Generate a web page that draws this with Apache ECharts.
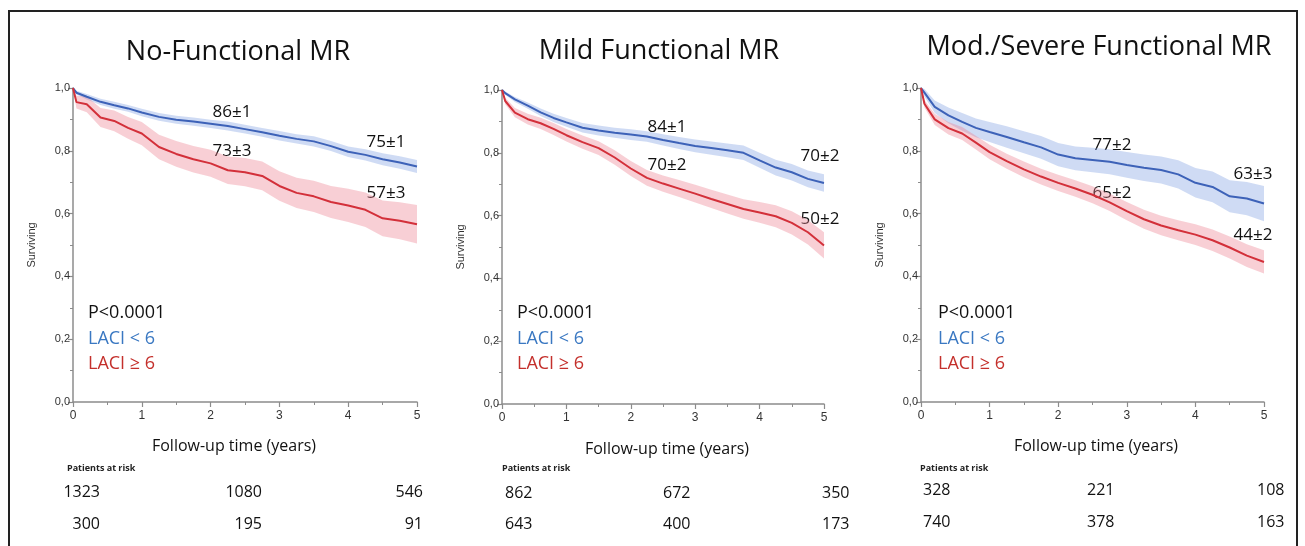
<!DOCTYPE html>
<html>
<head>
<meta charset="utf-8">
<script src="https://cdn.jsdelivr.net/npm/echarts@6/dist/echarts.min.js"></script>
<style>
    html, body { margin: 0; padding: 0; background: #fff; }
    #chart { width: 1305px; height: 546px; }
</style>
</head>
<body>
<div id="chart"></div>
<script>
    // follow-up times (years), shared by all curves
    var times = [0, 0.05, 0.2, 0.4, 0.6, 0.8, 1.0, 1.25, 1.5, 1.75, 2.0, 2.25, 2.5, 2.75, 3.0, 3.25, 3.5, 3.75, 4.0, 4.25, 4.5, 4.75, 5.0];

    // No-Functional MR
    var noBlue   = [1.0, 0.985, 0.972, 0.956, 0.945, 0.935, 0.922, 0.908, 0.899, 0.893, 0.886, 0.879, 0.869, 0.859, 0.848, 0.838, 0.830, 0.815, 0.797, 0.787, 0.773, 0.763, 0.750];
    var noBlueCi = [0, 0.006, 0.009, 0.01, 0.011, 0.011, 0.012, 0.012, 0.013, 0.013, 0.013, 0.014, 0.014, 0.014, 0.015, 0.015, 0.016, 0.016, 0.017, 0.018, 0.019, 0.02, 0.021];
    var noRed    = [1.0, 0.955, 0.948, 0.906, 0.895, 0.873, 0.855, 0.812, 0.790, 0.773, 0.760, 0.738, 0.732, 0.720, 0.688, 0.666, 0.655, 0.637, 0.626, 0.612, 0.585, 0.577, 0.566];
    var noRedCi  = [0, 0.02, 0.025, 0.03, 0.033, 0.035, 0.037, 0.039, 0.041, 0.042, 0.043, 0.044, 0.045, 0.046, 0.047, 0.048, 0.05, 0.051, 0.053, 0.055, 0.057, 0.059, 0.061];

    // Mild Functional MR
    var mildBlue   = [1.0, 0.99, 0.97, 0.95, 0.929, 0.911, 0.897, 0.880, 0.871, 0.864, 0.858, 0.852, 0.841, 0.831, 0.822, 0.815, 0.808, 0.800, 0.776, 0.753, 0.738, 0.717, 0.704];
    var mildBlueCi = [0, 0.005, 0.008, 0.01, 0.012, 0.013, 0.014, 0.015, 0.016, 0.016, 0.017, 0.017, 0.018, 0.019, 0.02, 0.021, 0.022, 0.023, 0.024, 0.025, 0.026, 0.027, 0.028];
    var mildRed    = [1.0, 0.965, 0.928, 0.907, 0.894, 0.876, 0.856, 0.834, 0.815, 0.785, 0.750, 0.720, 0.702, 0.686, 0.670, 0.653, 0.637, 0.621, 0.610, 0.598, 0.577, 0.547, 0.505];
    var mildRedCi  = [0, 0.01, 0.015, 0.017, 0.018, 0.019, 0.02, 0.021, 0.022, 0.023, 0.024, 0.025, 0.026, 0.027, 0.028, 0.029, 0.03, 0.031, 0.033, 0.035, 0.037, 0.039, 0.042];

    // Mod./Severe Functional MR
    var sevBlue   = [1.0, 0.985, 0.94, 0.913, 0.892, 0.873, 0.860, 0.844, 0.827, 0.811, 0.788, 0.776, 0.771, 0.765, 0.755, 0.746, 0.739, 0.725, 0.698, 0.685, 0.655, 0.648, 0.632];
    var sevBlueCi = [0, 0.012, 0.02, 0.025, 0.028, 0.03, 0.032, 0.034, 0.035, 0.036, 0.037, 0.038, 0.039, 0.04, 0.041, 0.042, 0.043, 0.045, 0.047, 0.049, 0.051, 0.053, 0.056];
    var sevRed    = [1.0, 0.95, 0.90, 0.872, 0.855, 0.826, 0.796, 0.767, 0.741, 0.718, 0.698, 0.680, 0.660, 0.636, 0.608, 0.582, 0.562, 0.547, 0.533, 0.515, 0.492, 0.466, 0.446];
    var sevRedCi  = [0, 0.012, 0.018, 0.02, 0.021, 0.022, 0.023, 0.024, 0.025, 0.025, 0.026, 0.026, 0.027, 0.028, 0.029, 0.03, 0.031, 0.032, 0.033, 0.034, 0.035, 0.036, 0.037];

    var panelTitles = ['No-Functional MR', 'Mild Functional MR', 'Mod./Severe Functional MR'];
    var xTicks = [0, 1, 2, 3, 4, 5];
    var yTicks = ['0,0', '0,2', '0,4', '0,6', '0,8', '1,0'];

    // survival labels: [blue mid, red mid, blue end, red end]
    var noLabels   = ['86±1', '73±3', '75±1', '57±3'];
    var mildLabels = ['84±1', '70±2', '70±2', '50±2'];
    var sevLabels  = ['77±2', '65±2', '63±3', '44±2'];

    // patients at risk (LACI < 6 / LACI >= 6) at 0, 2.5, 5 years
    var noRiskBlue   = [1323, 1080, 546];
    var noRiskRed    = [300, 195, 91];
    var mildRiskBlue = [862, 672, 350];
    var mildRiskRed  = [643, 400, 173];
    var sevRiskBlue  = [328, 221, 108];
    var sevRiskRed   = [740, 378, 163];

    var BLUE = '#3d62b8', BLUE_TXT = '#3a78c2', BLUE_BAND = 'rgba(130,160,225,0.38)';
    var RED = '#d3303a', RED_TXT = '#c4302c', RED_BAND = 'rgba(236,130,145,0.38)';
    var FONT = '"Open Sans", sans-serif';
    var AXFONT = '"Liberation Sans Narrow", "Liberation Sans", sans-serif';

    var panels = [
        {grid: {left: 73, top: 88, width: 344, height: 314},
         blue: noBlue, blueCi: noBlueCi, red: noRed, redCi: noRedCi,
         labels: noLabels, riskBlue: noRiskBlue, riskRed: noRiskRed,
         titleX: 238, titleY: 52, labelPos: [[232, 112], [232, 151], [386, 142], [386, 193]],
         riskX: [100, 262, 423], riskAlign: 'right', riskY: [492, 524], patX: 67, legX: 88, axTitleX: 234, axTitleY: 446},
        {grid: {left: 502, top: 90, width: 322, height: 314},
         blue: mildBlue, blueCi: mildBlueCi, red: mildRed, redCi: mildRedCi,
         labels: mildLabels, riskBlue: mildRiskBlue, riskRed: mildRiskRed,
         titleX: 659, titleY: 51, labelPos: [[667, 127], [667, 165], [820, 156], [820, 219]],
         riskX: [505, 663, 822], riskAlign: 'left', riskY: [493, 524], patX: 502, legX: 517, axTitleX: 667, axTitleY: 449},
        {grid: {left: 921, top: 88, width: 343, height: 314},
         blue: sevBlue, blueCi: sevBlueCi, red: sevRed, redCi: sevRedCi,
         labels: sevLabels, riskBlue: sevRiskBlue, riskRed: sevRiskRed,
         titleX: 1099, titleY: 47, labelPos: [[1112, 145], [1112, 193], [1253, 174], [1253, 235]],
         riskX: [923, 1087, 1257], riskAlign: 'left', riskY: [490, 522], patX: 920, legX: 938, axTitleX: 1096, axTitleY: 446}
    ];

    function pairs(ys) {
        return times.map(function (t, i) { return [t, ys[i]]; });
    }

    // confidence band as one polygon: upper edge forward, lower edge back
    function bandSeries(k, surv, ci, color) {
        var rows = times.map(function (t, i) { return [t, surv[i] - ci[i], surv[i] + ci[i]]; });
        return {
            type: 'custom', xAxisIndex: k, yAxisIndex: k, data: rows, silent: true, z: 1,
            encode: {x: 0, y: [1, 2]},
            renderItem: function (params, api) {
                if (params.dataIndex !== 0) return null;
                var top = rows.map(function (r) { return api.coord([r[0], r[2]]); });
                var bottom = rows.map(function (r) { return api.coord([r[0], r[1]]); }).reverse();
                return {type: 'polygon', shape: {points: top.concat(bottom)}, style: {fill: color}};
            }
        };
    }

    var grids = [], xAxes = [], yAxes = [], series = [], graphics = [];

    graphics.push({type: 'rect', shape: {x: 9, y: 11, width: 1288, height: 560},
        style: {fill: 'none', stroke: '#222', lineWidth: 2}, silent: true});

    panels.forEach(function (p, k) {
        grids.push(p.grid);
        xAxes.push({
            type: 'value', gridIndex: k, min: 0, max: 5, interval: 1,
            axisLine: {lineStyle: {color: '#8c8c8c', width: 1.5}},
            axisTick: {length: 5, lineStyle: {color: '#8c8c8c', width: 1.2}},
            minorTick: {show: true, splitNumber: 2, length: 3, lineStyle: {color: '#8c8c8c'}},
            splitLine: {show: false},
            axisLabel: {color: '#333', fontFamily: AXFONT, fontSize: 12, margin: 8,
                formatter: function (v) { return xTicks[Math.round(v)]; }}
        });
        yAxes.push({
            type: 'value', gridIndex: k, min: 0, max: 1, interval: 0.2,
            axisLine: {show: true, lineStyle: {color: '#8c8c8c', width: 1.5}},
            axisTick: {show: true, length: 5, lineStyle: {color: '#8c8c8c', width: 1.2}},
            minorTick: {show: true, splitNumber: 2, length: 3, lineStyle: {color: '#8c8c8c'}},
            splitLine: {show: false},
            axisLabel: {color: '#333', fontFamily: AXFONT, fontSize: 11, margin: 3,
                formatter: function (v) { return yTicks[Math.round(v * 5)]; }}
        });

        series.push(bandSeries(k, p.blue, p.blueCi, BLUE_BAND));
        series.push(bandSeries(k, p.red, p.redCi, RED_BAND));
        [[p.blue, BLUE], [p.red, RED]].forEach(function (g) {
            series.push({type: 'line', xAxisIndex: k, yAxisIndex: k, data: pairs(g[0]),
                symbol: 'none', lineStyle: {color: g[1], width: 2}, z: 3});
        });

        // texts
        graphics.push({type: 'text', x: p.titleX, y: p.titleY,
            style: {text: panelTitles[k], font: '27px ' + FONT, fill: '#111', textAlign: 'center', textVerticalAlign: 'middle'}});
        graphics.push({type: 'text', x: p.grid.left - 41, y: p.grid.top + 157, rotation: Math.PI / 2,
            style: {text: 'Surviving', font: '11px "Liberation Sans", sans-serif', fill: '#333', textAlign: 'center', textVerticalAlign: 'middle'}});
        graphics.push({type: 'text', x: p.axTitleX, y: p.axTitleY,
            style: {text: 'Follow-up time (years)', font: '16px ' + FONT, fill: '#111', textAlign: 'center', textVerticalAlign: 'middle'}});
        [['P<0.0001', '#111', 313], ['LACI < 6', BLUE_TXT, 339], ['LACI ≥ 6', RED_TXT, 364]].forEach(function (l) {
            graphics.push({type: 'text', x: p.legX, y: l[2],
                style: {text: l[0], font: '18px ' + FONT, fill: l[1], textAlign: 'left', textVerticalAlign: 'middle'}});
        });
        p.labels.forEach(function (s, i) {
            graphics.push({type: 'text', x: p.labelPos[i][0], y: p.labelPos[i][1],
                style: {text: s, font: '17px ' + FONT, fill: '#111', textAlign: 'center', textVerticalAlign: 'middle'}});
        });
        graphics.push({type: 'text', x: p.patX, y: 468,
            style: {text: 'Patients at risk', font: 'bold 9px ' + FONT, fill: '#222', textAlign: 'left', textVerticalAlign: 'middle'}});
        [p.riskBlue, p.riskRed].forEach(function (row, r) {
            row.forEach(function (n, i) {
                graphics.push({type: 'text', x: p.riskX[i], y: p.riskY[r],
                    style: {text: String(n), font: '16px ' + FONT, fill: '#111', textAlign: p.riskAlign, textVerticalAlign: 'middle'}});
            });
        });
    });

    var chart = echarts.init(document.getElementById('chart'));
    chart.setOption({
        animation: false,
        grid: grids,
        xAxis: xAxes,
        yAxis: yAxes,
        series: series,
        graphic: graphics
    });
</script>
</body>
</html>
